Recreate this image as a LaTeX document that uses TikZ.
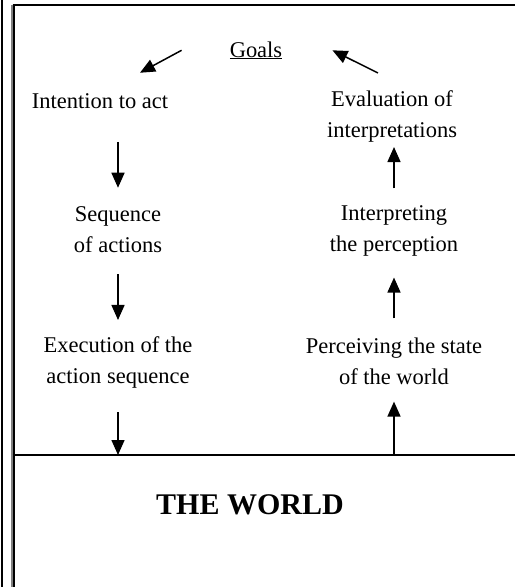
\documentclass[tikz,border=0pt]{standalone}
\usepackage{fontspec}
\setmainfont{Liberation Serif}
\usetikzlibrary{arrows.meta}
\begin{document}
\begin{tikzpicture}[x=1pt,y=-1pt,
  lbl/.style={inner sep=0pt,align=center,font=\fontsize{22.5}{31}\selectfont},
  arr/.style={line width=1.5pt,-{Triangle[length=15pt,width=13pt]}},
  frame/.style={line width=2pt}]
\useasboundingbox (0,0) rectangle (515,587);
% page frame
\draw[frame] (1.5,0) -- (1.5,587);
\draw[gray,line width=1.2pt] (12,4.5) -- (12,587);
\draw[frame] (13.5,4.5) -- (13.5,587);
\draw[frame] (12.5,4.5) -- (515,4.5);
% the world
\coordinate (wl) at (12.5,455);
\coordinate (wr) at (515,455);
\draw[frame] (wl) -- (wr);
\node[inner sep=0pt,font=\fontsize{30}{36}\selectfont\bfseries] (world) at (250,505) {THE WORLD};
% stages
\node[lbl,anchor=base] (goals) at (256,57) {\underline{Goals}};
\node[lbl] (intent) at (100,101) {Intention to act};
\node[lbl] (evalu) at (392,116) {Evaluation of\\interpretations};
\node[lbl] (seq) at (118,230) {Sequence\\of actions};
\node[lbl] (interp) at (394,231) {Interpreting\\the perception};
\node[lbl] (exec) at (118,362) {Execution of the\\action sequence};
\node[lbl] (perc) at (394,361) {Perceiving the state\\of the world};
% connectors
\draw[arr] ([xshift=-48pt]goals.west) -- ([xshift=40pt,yshift=20.5pt]intent.north);
\draw[arr] ([xshift=-14pt,yshift=17pt]evalu.north) -- ([xshift=50pt]goals.east);
\draw[arr,shorten <=33pt,shorten >=19pt] (seq.north |- intent.south) -- (seq.north);
\draw[arr,shorten <=21pt,shorten >=16pt] (exec.north |- seq.south) -- (exec.north);
\draw[arr,shorten <=24pt] (exec.south) -- (exec.south |- wl);
\draw[arr,shorten >=17pt] (perc.south |- wl) -- (perc.south);
\draw[arr,shorten <=19pt,shorten >=21pt] (perc.north) -- (perc.north |- interp.south);
\draw[arr,shorten <=17pt,shorten >=5pt] (interp.north) -- (interp.north |- evalu.south);
\end{tikzpicture}
\end{document}
